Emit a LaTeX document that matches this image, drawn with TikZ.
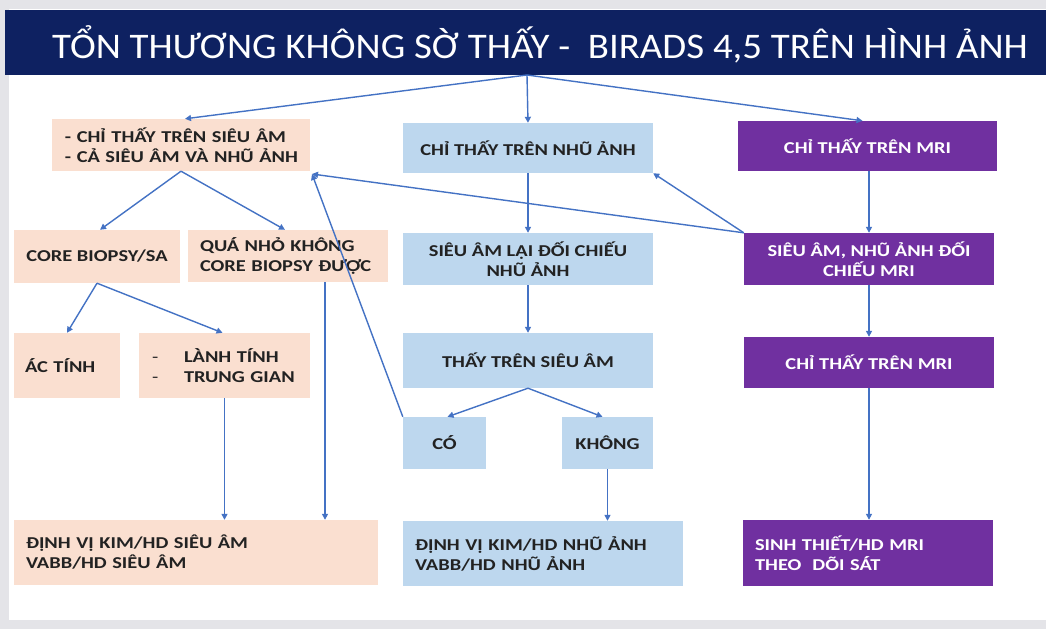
\documentclass[tikz,border=0pt]{standalone}
\usepackage{fontspec}
\setmainfont{Carlito}
\newfontfamily\boxfam{Carlito}[FakeStretch=1.23]
\newfontfamily\titlefam{Carlito}[FakeStretch=1.08]
\usetikzlibrary{arrows.meta}
\definecolor{navy}{HTML}{0E2161}
\definecolor{peachc}{HTML}{FADFD0}
\definecolor{bluec}{HTML}{BDD7EE}
\definecolor{purpc}{HTML}{7030A0}
\definecolor{arrowc}{HTML}{4472C4}
\definecolor{txt}{HTML}{222222}
\definecolor{frame}{HTML}{E4E4E8}
\tikzset{
  box/.style={draw=none, inner sep=0pt, text=txt,
    font=\boxfam\bfseries\fontsize{16.6}{20}\selectfont},
  peach/.style={box, fill=peachc},
  bluebox/.style={box, fill=bluec},
  purp/.style={box, fill=purpc, text=white},
  conn/.style={draw=arrowc, line width=1.4pt, -{Triangle[length=6pt,width=6pt]}},
}
\begin{document}
\begin{tikzpicture}[x=1pt,y=-1pt]
\useasboundingbox (0,0) rectangle (1046,629);
\fill[frame] (0,0) rectangle (1046,629);
\fill[white] (9,9) rectangle (1046,620);
% title
\node[fill=navy, minimum width=1041, minimum height=65, inner sep=0pt] (T) at (525.5,42.5) {};
\node[text=white, font=\titlefam\fontsize{36}{40}\selectfont, inner sep=0pt] (Tt) at (540,44) {TỔN THƯƠNG KHÔNG SỜ THẤY -\ \ BIRADS 4,5 TRÊN HÌNH ẢNH};
\coordinate (src) at (527,75);
% left column
\node[peach, minimum width=258, minimum height=52, text width=250, align=left] (A) at (181,145)
  {\hspace*{9pt}- CHỈ THẤY TRÊN SIÊU ÂM\\\hspace*{9pt}- CẢ SIÊU ÂM VÀ NHŨ ẢNH};
\node[peach, minimum width=166, minimum height=53, align=center] (B) at (97,256.5) {CORE BIOPSY/SA};
\node[peach, minimum width=200, minimum height=52, text width=176, align=left] (C) at (288,256)
  {QUÁ NHỎ KHÔNG\\CORE BIOPSY ĐƯỢC};
\node[peach, minimum width=106, minimum height=65, text width=84, align=left] (D) at (67,365.5) {ÁC TÍNH};
\node[peach, minimum width=171, minimum height=65, text width=145, align=left] (E) at (224.5,365.5)
  {\makebox[32pt][l]{\mdseries -}LÀNH TÍNH\\\makebox[32pt][l]{\mdseries -}TRUNG GIAN};
\node[peach, minimum width=364, minimum height=65, text width=340, align=left] (F) at (196,552.5)
  {ĐỊNH VỊ KIM/HD SIÊU ÂM\\VABB/HD SIÊU ÂM};
% middle column
\node[bluebox, minimum width=250, minimum height=50, align=center] (G) at (528,148) {CHỈ THẤY TRÊN NHŨ ẢNH};
\node[bluebox, minimum width=250, minimum height=52, align=center] (H) at (528,259) {SIÊU ÂM LẠI ĐỐI CHIẾU\\NHŨ ẢNH};
\node[bluebox, minimum width=250, minimum height=55, align=center] (I) at (528,360.5) {THẤY TRÊN SIÊU ÂM};
\node[bluebox, minimum width=83, minimum height=52, align=center] (J) at (444.5,443) {CÓ};
\node[bluebox, minimum width=91, minimum height=52, align=center] (K) at (607.5,443) {KHÔNG};
\node[bluebox, minimum width=280, minimum height=65, text width=256, align=left] (L) at (543,553.5)
  {ĐỊNH VỊ KIM/HD NHŨ ẢNH\\VABB/HD NHŨ ẢNH};
% right column
\node[purp, minimum width=259, minimum height=50, align=center] (M) at (867.5,146) {CHỈ THẤY TRÊN MRI};
\node[purp, minimum width=250, minimum height=52, align=center] (N) at (869,259) {SIÊU ÂM, NHŨ ẢNH ĐỐI\\CHIẾU MRI};
\node[purp, minimum width=250, minimum height=51, align=center] (O) at (869,362.5) {CHỈ THẤY TRÊN MRI};
\node[purp, minimum width=250, minimum height=66, text width=226, align=left] (P) at (868,553)
  {SINH THIẾT/HD MRI\\THEO\ \ DÕI SÁT};
\coordinate (jn) at (312,174);
% connectors
\draw[conn] (src) -- ([xshift=4]A.north);
\draw[conn] (src) -- (G.north);
\draw[conn] (src) -- ([xshift=-5]M.north);
\draw[conn] (A.south) -- ([xshift=3]B.north);
\draw[conn] (A.south) -- ([xshift=-3]C.north);
\draw[conn] (B.south) -- (D.north);
\draw[conn] (B.south) -- ([xshift=-2]E.north);
\draw[conn] (E.south) -- (E.south |- F.north);
\draw[conn] ([xshift=37]C.south) -- ([xshift=37]C.south |- F.north);
\draw[conn] (J.north west) -- (jn);
\draw[conn] (N.north west) -- (jn);
\draw[conn] (N.north west) -- (G.south east);
\draw[conn] (G.south) -- (H.north);
\draw[conn] (H.south) -- (I.north);
\draw[conn] (I.south) -- ([xshift=3]J.north);
\draw[conn] (I.south) -- ([xshift=-5]K.north);
\draw[conn] (K.south) -- (K.south |- L.north);
\draw[conn] (N.north |- M.south) -- (N.north);
\draw[conn] (N.south) -- (O.north);
\draw[conn] (O.south) -- (O.south |- P.north);
\end{tikzpicture}
\end{document}
